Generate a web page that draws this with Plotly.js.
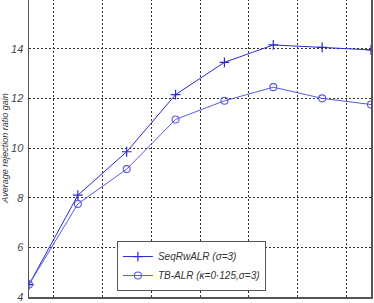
<!DOCTYPE html>
<html>
<head>
<meta charset="utf-8">
<script src="https://cdn.plot.ly/plotly-3.0.1.min.js"></script>
<style>
html,body{margin:0;padding:0;overflow:hidden;background:#fff;width:374px;height:303px;}
#chart{position:absolute;left:0;top:-1px;width:374px;height:304px;}
</style>
</head>
<body>
<div id="chart"></div>
<script>
const xSteps = [0, 1, 2, 3, 4, 5, 6, 7];
const seqRwALR = [4.5, 8.1, 9.85, 12.15, 13.45, 14.15, 14.05, 13.95];
const tbALR = [4.5, 7.75, 9.15, 11.15, 11.9, 12.45, 12.0, 11.75];
const seriesNames = ['SeqRwALR (σ=3)', 'TB-ALR (κ=0·125,σ=3)'];
const yTicks = [4, 6, 8, 10, 12, 14, 16];
const xGrid = [0.5, 1.5, 2.5, 3.5, 4.5, 5.5, 6.5];
const yTitle = 'Average rejection ratio gain';

const fontFam = 'Liberation Sans, Arial, sans-serif';

const traces = [
  {
    x: xSteps, y: seqRwALR, name: seriesNames[0], type: 'scatter', mode: 'lines+markers',
    line: {color: '#2a2ad0', width: 1},
    marker: {symbol: 'cross-thin', size: 7, line: {color: '#2a2ad0', width: 1.2}}
  },
  {
    x: xSteps, y: tbALR, name: seriesNames[1], type: 'scatter', mode: 'lines+markers',
    line: {color: '#5a5ae2', width: 1},
    marker: {symbol: 'circle-open', size: 7, color: '#5a5ae2', line: {color: '#5a5ae2', width: 1.1}}
  }
];

const layout = {
  width: 374, height: 304,
  margin: {l: 29, r: 3, t: 0, b: 6},
  paper_bgcolor: '#fff', plot_bgcolor: '#fff',
  showlegend: true,
  legend: {
    x: 0.257, y: 0.02, xanchor: 'left', yanchor: 'bottom',
    bgcolor: '#fff', bordercolor: '#555', borderwidth: 1,
    font: {family: fontFam, size: 10, color: '#333', style: 'italic'},
    tracegroupgap: 0, itemwidth: 30
  },
  xaxis: {
    range: [0, 7], tickvals: xGrid, showticklabels: false, ticks: '',
    showgrid: true, gridcolor: '#333', gridwidth: 1, griddash: '2px,2px',
    showline: true, linecolor: '#555', linewidth: 1.5, mirror: true, zeroline: false
  },
  yaxis: {
    range: [4, 16], tickvals: yTicks, ticks: '',
    showgrid: true, gridcolor: '#333', gridwidth: 1, griddash: '2px,2px',
    showline: true, linecolor: '#555', linewidth: 1.5, mirror: true, zeroline: false,
    tickfont: {family: fontFam, size: 11, color: '#444', style: 'italic'},
    ticklabelstandoff: 2,
    automargin: false,
    title: {text: yTitle, font: {family: fontFam, size: 9, color: '#333', style: 'italic'}, standoff: 4}
  }
};

Plotly.newPlot('chart', traces, layout, {displayModeBar: false, staticPlot: true});
</script>
</body>
</html>
